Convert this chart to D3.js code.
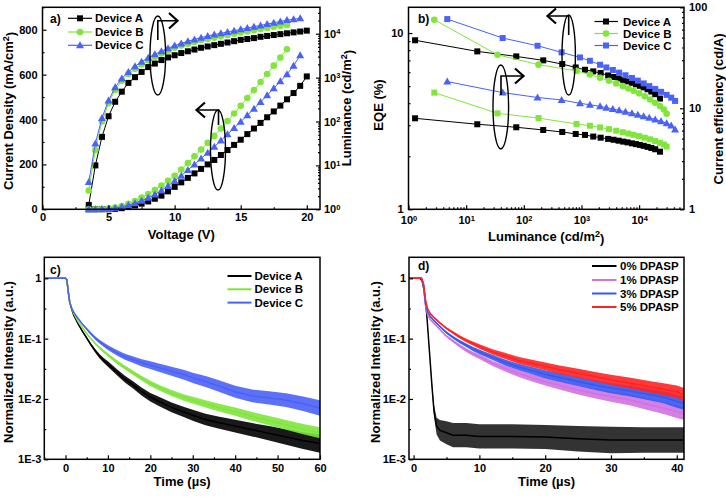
<!DOCTYPE html>
<html><head><meta charset="utf-8">
<script src="https://cdn.jsdelivr.net/npm/d3@7"></script>
<style>
body{margin:0;background:#fff}
text{font-family:"Liberation Sans",Arial,sans-serif;font-weight:bold;fill:#000}
</style>
</head><body>
<svg id="fig" width="726" height="501" xmlns="http://www.w3.org/2000/svg"></svg>
<script>
// ---------------- Panel a data ----------------
const voltage = [3.5,4,4.5,5,5.5,6,6.5,7,7.5,8,8.5,9,9.5,10,10.5,11,11.5,12,12.5,13,13.5,14,14.5,15,15.5,16,16.5,17,17.5,18,18.5,19,19.5,20];
const lumA_log10 = [0.1,1.0,1.65,2.12,2.45,2.68,2.88,3.01,3.13,3.24,3.32,3.40,3.46,3.51,3.56,3.60,3.64,3.68,3.71,3.74,3.77,3.80,3.83,3.86,3.88,3.90,3.93,3.95,3.97,3.99,4.01,4.03,4.05,4.07];
const lumB_log10 = [0.43,1.35,2.0,2.42,2.72,2.93,3.08,3.2,3.3,3.39,3.47,3.55,3.62,3.68,3.73,3.77,3.81,3.85,3.88,3.91,3.94,3.97,4.0,4.03,4.05,4.08,4.11,4.13,4.16,4.18,4.2];
const lumC_log10 = [0.62,1.5,2.08,2.48,2.78,2.98,3.13,3.26,3.36,3.45,3.53,3.6,3.67,3.73,3.78,3.83,3.87,3.91,3.95,3.98,4.01,4.04,4.07,4.1,4.13,4.16,4.19,4.22,4.25,4.28,4.31,4.33,4.35];
const jA = [0,0,0,0,2,5,10,17,25,35,47,61,80,100,120,140,160,180,200,220,242,264,287,310,335,360,385,410,436,462,490,518,550,592];
const jB = [0,0,1,3,8,15,25,37,52,68,86,106,127,149,177,206,236,266,296,327,360,393,427,461,496,531,567,603,640,676,713];
const jC = [0,0,1,2,6,11,18,27,38,51,66,84,104,126,150,175,200,226,252,279,306,334,362,390,419,448,478,508,539,570,602,640,686];
const aXTicks = [0,5,10,15,20];
const aYTicks = [0,200,400,600,800];
const aRTicks = [1,10,100,1000,10000];

// ---------------- Panel b data ----------------
const bLumA = [1.3,15.6,74,217,464,794,1150,1600,2150,2900,3600,4400,5300,6300,7500,8800,10300,12000,14000,16300,19000,23000];
const eqeA  = [9.1,7.87,7.37,7.0,6.67,6.38,6.19,6.06,5.93,5.75,5.63,5.52,5.42,5.32,5.22,5.12,5.02,4.92,4.8,4.66,4.5,4.25];
const ceA   = [7.96,6.95,6.49,6.1,5.83,5.57,5.45,5.25,5.12,4.98,4.88,4.78,4.68,4.6,4.5,4.42,4.34,4.25,4.15,4.05,3.93,3.72];
const bLumB = [2.8,35,180,820,1400,2100,3000,4000,5200,6500,8000,10000,12500,15500,19000,23000,27000,30000];
const eqeB  = [11.9,7.53,6.62,6.1,5.82,5.57,5.36,5.18,5.0,4.85,4.7,4.55,4.38,4.2,4.02,3.85,3.68,3.48];
const ceB   = [14.3,8.92,8.0,7.0,6.72,6.47,6.22,6.0,5.8,5.62,5.46,5.3,5.12,4.93,4.74,4.55,4.38,4.18];
const bLumC = [4.7,43,173,452,942,1400,2100,2700,3500,4500,5800,7500,9500,12000,15000,19000,24000,30000,36000,42000];
const eqeC  = [12.0,9.37,8.47,7.77,7.27,6.96,6.61,6.38,6.17,5.96,5.76,5.56,5.37,5.18,5.0,4.82,4.64,4.46,4.3,4.12];
const ceC   = [18.4,14.3,12.8,12.1,11.2,10.85,10.45,10.15,9.85,9.55,9.25,8.95,8.65,8.35,8.05,7.75,7.45,7.1,6.75,6.15];
const bXTicks = [1,10,100,1000,10000];

// ---------------- Panel c data (log10 of normalized intensity) ----------------
const tC = [-5,-1,0,0.3,0.7,1,1.5,2,3,4,5,6,7,8,9,10,12,14,16,18,20,22,25,28,30,33,36,40,44,48,52,56,60];
const cA_log10 = [0,0,0,-0.02,-0.25,-0.4,-0.52,-0.62,-0.76,-0.88,-0.99,-1.1,-1.2,-1.29,-1.36,-1.42,-1.55,-1.67,-1.77,-1.88,-1.97,-2.04,-2.14,-2.22,-2.27,-2.34,-2.39,-2.45,-2.51,-2.57,-2.63,-2.69,-2.74];
const cB_log10 = [0,0,0,-0.02,-0.25,-0.4,-0.5,-0.59,-0.72,-0.82,-0.92,-1.0,-1.08,-1.15,-1.21,-1.27,-1.38,-1.48,-1.57,-1.66,-1.74,-1.81,-1.9,-1.98,-2.02,-2.08,-2.14,-2.21,-2.29,-2.36,-2.43,-2.5,-2.56];
const cC_log10 = [0,0,0,-0.02,-0.25,-0.4,-0.5,-0.57,-0.67,-0.76,-0.84,-0.92,-0.99,-1.05,-1.1,-1.15,-1.23,-1.3,-1.35,-1.4,-1.44,-1.48,-1.54,-1.6,-1.65,-1.71,-1.78,-1.88,-1.95,-1.98,-2.02,-2.08,-2.15];
// noise half-width of each trace (decades)
const cA_noise = [0.005,0.005,0.005,0.005,0.005,0.005,0.005,0.008,0.01,0.015,0.02,0.025,0.03,0.035,0.04,0.045,0.05,0.055,0.06,0.065,0.07,0.075,0.08,0.085,0.09,0.095,0.1,0.105,0.11,0.12,0.13,0.14,0.15];
const cB_noise = [0.005,0.005,0.005,0.005,0.005,0.005,0.005,0.006,0.008,0.01,0.012,0.015,0.018,0.02,0.022,0.025,0.03,0.033,0.036,0.04,0.043,0.046,0.05,0.054,0.057,0.06,0.064,0.068,0.072,0.076,0.08,0.085,0.09];
const cC_noise = [0.005,0.005,0.005,0.005,0.005,0.005,0.005,0.008,0.01,0.015,0.02,0.024,0.028,0.032,0.036,0.04,0.045,0.05,0.055,0.06,0.065,0.07,0.075,0.08,0.085,0.09,0.095,0.1,0.105,0.11,0.115,0.12,0.13];
const cXTicks = [0,10,20,30,40,50,60];
const decayYTicks = [0.001,0.01,0.1,1];
const decayYLabels = ["1E-3","1E-2","1E-1","1"];

// ---------------- Panel d data ----------------
const tD = [-0.7,0,1,1.2,1.5,1.8,2.1,2.5,3,4,5,6,7,8,9,10,12,14,16,18,20,22,25,28,30,33,36,38,40,41.1];
const d5_log10 = [0,0,0,0,-0.08,-0.35,-0.5,-0.58,-0.64,-0.74,-0.83,-0.9,-0.97,-1.03,-1.08,-1.13,-1.22,-1.29,-1.36,-1.41,-1.46,-1.51,-1.575,-1.64,-1.685,-1.74,-1.8,-1.84,-1.88,-1.93];
const d3_log10 = [0,0,0,0,-0.1,-0.4,-0.55,-0.63,-0.69,-0.8,-0.9,-0.98,-1.05,-1.11,-1.17,-1.22,-1.31,-1.4,-1.47,-1.53,-1.59,-1.64,-1.71,-1.78,-1.82,-1.87,-1.93,-1.97,-2.04,-2.07];
const d1_log10 = [0,0,0,0,-0.12,-0.45,-0.6,-0.68,-0.735,-0.85,-0.96,-1.04,-1.12,-1.19,-1.25,-1.3,-1.41,-1.5,-1.58,-1.65,-1.71,-1.77,-1.85,-1.92,-1.96,-2.02,-2.1,-2.15,-2.21,-2.24];
const dColoured_noise = [0.004,0.004,0.004,0.004,0.006,0.008,0.01,0.012,0.014,0.016,0.018,0.022,0.026,0.03,0.034,0.038,0.044,0.05,0.055,0.06,0.065,0.07,0.075,0.08,0.085,0.09,0.095,0.1,0.105,0.11];
const tD0 = [-0.7,0,1,1.3,1.6,2,2.4,2.8,3.1,3.5,4,5,6,8,10,15,20,25,30,35,41.1];
const d0_log10 = [0,0,0,-0.05,-0.2,-0.6,-1.2,-1.8,-2.2,-2.45,-2.52,-2.56,-2.6,-2.6,-2.62,-2.62,-2.63,-2.66,-2.68,-2.68,-2.68];
const d0_noise = [0.004,0.004,0.004,0.01,0.02,0.03,0.04,0.06,0.1,0.14,0.17,0.19,0.2,0.2,0.2,0.2,0.2,0.21,0.22,0.21,0.21];
const dXTicks = [0,10,20,30,40];

// ---------------- styling ----------------
const COL = {black:"#000000", green:"#80e63c", blue:"#4a62f6", violet:"#cf72e2", blue2:"#3558f0", red:"#ff2424"};
const svg = d3.select("#fig");
const TICK_FS = 11, TITLE_FS = 13;

const boxA = {x0:42.5, x1:320, y0:7.3, y1:209.3};
const boxB = {x0:408.5, x1:684, y0:7.3, y1:209.3};
const boxC = {x0:44.3, x1:320, y0:257.3, y1:459.3};
const boxD = {x0:409, x1:684, y0:257.3, y1:459.3};

function clip(id, b){
  svg.append("clipPath").attr("id",id).append("rect")
    .attr("x",b.x0).attr("y",b.y0).attr("width",b.x1-b.x0).attr("height",b.y1-b.y0);
  return svg.append("g").attr("clip-path",`url(#${id})`);
}
function frame(b){
  svg.append("rect").attr("x",b.x0).attr("y",b.y0).attr("width",b.x1-b.x0).attr("height",b.y1-b.y0)
    .attr("fill","none").attr("stroke","#000").attr("stroke-width",1.5);
}
function styleAxis(g){
  g.select(".domain").remove();
  g.selectAll("line").attr("stroke","#000").attr("stroke-width",1.2);
  g.selectAll("text").attr("font-size",TICK_FS).attr("font-family","Liberation Sans, Arial, sans-serif").attr("font-weight","bold").attr("fill","#000");
}
function axis(gen, pos, transform, vals, fmt, size, pad){
  const g = svg.append("g").attr("transform",transform)
    .call(gen.tickValues(vals).tickSize(size).tickPadding(pad).tickFormat(fmt||(()=>"")));
  styleAxis(g);
  return g;
}
function supLabels(g){
  g.selectAll("text").each(function(d){
    const e = Math.round(Math.log10(d));
    const t = d3.select(this); t.text("10");
    t.append("tspan").attr("dy","-0.45em").attr("font-size","0.68em").text(e);
  });
}
function logMinors(lo, hi){
  const out=[];
  for(let p=lo;p<hi;p++) for(let m=2;m<=9;m++) out.push(m*Math.pow(10,p));
  return out;
}
function label(x,y,txt,opts={}){
  const t = svg.append("text").attr("x",x).attr("y",y).attr("font-size",opts.fs||TITLE_FS)
    .attr("text-anchor",opts.anchor||"middle");
  if(opts.rot) t.attr("transform",`rotate(-90,${x},${y})`);
  if(opts.parts){
    opts.parts.forEach(p=>{
      const s=t.append("tspan").text(p.t);
      if(p.sup){ s.attr("dy","-0.45em").attr("font-size","0.7em"); }
      if(p.back){ s.attr("dy","0.45em"); }
    });
  } else t.text(txt);
  return t;
}
function marker(g, shape, x, y, color){
  if(shape==="square") g.append("rect").attr("x",x-3).attr("y",y-3).attr("width",6).attr("height",6).attr("fill",color);
  else if(shape==="circle") g.append("circle").attr("cx",x).attr("cy",y).attr("r",3.3).attr("fill",color);
  else g.append("path").attr("d",`M${x},${y-4}L${x+4},${y+3}L${x-4},${y+3}Z`).attr("fill",color);
}
function series(g, xs, ys, sx, sy, color, shape, lw){
  const pts = xs.map((x,i)=>[sx(x), sy(ys[i])]);
  g.append("path").attr("d",d3.line()(pts)).attr("fill","none").attr("stroke",color).attr("stroke-width",lw||1);
  pts.forEach(p=>marker(g,shape,p[0],p[1],color));
}
function decay(g, ts, logs, noise, sx, sy, color, op){
  const area = d3.area().x((d,i)=>sx(ts[i])).y0((d,i)=>sy(Math.pow(10,logs[i]-noise[i]))).y1((d,i)=>sy(Math.pow(10,logs[i]+noise[i])));
  g.append("path").attr("d",area(ts)).attr("fill",color).attr("opacity",op||0.9);
  const line = d3.line().x((d,i)=>sx(ts[i])).y((d,i)=>sy(Math.pow(10,logs[i])));
  g.append("path").attr("d",line(ts)).attr("fill","none").attr("stroke",color).attr("stroke-width",1.5);
}
function arrow(d, head){
  svg.append("path").attr("d",d).attr("fill","none").attr("stroke","#000").attr("stroke-width",1.6);
  svg.append("path").attr("d",head).attr("fill","none").attr("stroke","#000").attr("stroke-width",2.2).attr("stroke-linejoin","miter");
}
function ellipse(cx,cy,rx,ry){
  svg.append("ellipse").attr("cx",cx).attr("cy",cy).attr("rx",rx).attr("ry",ry).attr("fill","none").attr("stroke","#000").attr("stroke-width",1.4);
}

// ================= Panel a =================
{
  const b = boxA;
  const x = d3.scaleLinear().domain([0,21]).range([b.x0,b.x1]);
  const yL = d3.scaleLinear().domain([0,900]).range([b.y1,b.y0]);
  const yR = d3.scaleLog().domain([1,40000]).range([b.y1,b.y0]);
  const gu = svg.append("g");
  series(gu, voltage, lumA_log10.map(v=>Math.pow(10,v)), x, yR, COL.black, "square");
  series(gu, voltage.slice(0,lumB_log10.length), lumB_log10.map(v=>Math.pow(10,v)), x, yR, COL.green, "circle");
  series(gu, voltage.slice(0,lumC_log10.length), lumC_log10.map(v=>Math.pow(10,v)), x, yR, COL.blue, "triangle");
  series(gu, voltage, jA, x, yL, COL.black, "square");
  series(gu, voltage.slice(0,jB.length), jB, x, yL, COL.green, "circle");
  series(gu, voltage.slice(0,jC.length), jC, x, yL, COL.blue, "triangle");
  frame(b);
  axis(d3.axisBottom(x),"b",`translate(0,${b.y1})`,aXTicks,d3.format("d"),-4,4);
  axis(d3.axisBottom(x),"b",`translate(0,${b.y1})`,[2.5,7.5,12.5,17.5],null,-2,4);
  axis(d3.axisLeft(yL),"l",`translate(${b.x0},0)`,aYTicks,d3.format("d"),-4,5);
  axis(d3.axisLeft(yL),"l",`translate(${b.x0},0)`,[100,300,500,700,900],null,-2,5);
  const r = axis(d3.axisRight(yR),"r",`translate(${b.x1},0)`,aRTicks,d=>d,-4,4);
  supLabels(r);
  axis(d3.axisRight(yR),"r",`translate(${b.x1},0)`,logMinors(0,5).filter(v=>v<40000),null,-2,4);
  label((b.x0+b.x1)/2, 239, "Voltage (V)");
  label(13, 111, null, {rot:true, parts:[{t:"Current Density (mA/cm"},{t:"2",sup:true},{t:")",back:true}]});
  label(351, 108, null, {rot:true, parts:[{t:"Luminance (cd/m"},{t:"2",sup:true},{t:")",back:true}]});
  label(50, 22.5, "a)", {anchor:"start", fs:12});
  const leg = svg.append("g");
  [["Device A",COL.black,"square",18.3],["Device B",COL.green,"circle",32],["Device C",COL.blue,"triangle",45.3]].forEach(d=>{
    leg.append("line").attr("x1",68).attr("x2",92).attr("y1",d[3]).attr("y2",d[3]).attr("stroke",d[1]).attr("stroke-width",1.2);
    marker(leg,d[2],80,d[3],d[1]);
    leg.append("text").attr("x",95).attr("y",d[3]+4).attr("font-size",11.5).text(d[0]);
  });
  ellipse(157.8,55.5,7.8,39.5);
  arrow("M157.8,40V20.7H177","M169,13L177.5,20.7L169,28.5");
  ellipse(218,150,7.5,40);
  arrow("M218.5,125V110H197","M205,102.5L196.5,110L205,117.5");
}

// ================= Panel b =================
{
  const b = boxB;
  const x = d3.scaleLog().domain([1,60000]).range([b.x0,b.x1]);
  const yL = d3.scaleLog().domain([1,14]).range([b.y1,b.y0]);
  const yR = d3.scaleLog().domain([1,100]).range([b.y1,b.y0]);
  const g = svg.append("g");
  series(g, bLumA, eqeA, x, yL, COL.black, "square");
  series(g, bLumB, eqeB, x, yL, COL.green, "circle");
  series(g, bLumC, eqeC, x, yL, COL.blue, "square");
  series(g, bLumA, ceA, x, yR, COL.black, "square");
  series(g, bLumB, ceB, x, yR, COL.green, "square");
  series(g, bLumC, ceC, x, yR, COL.blue, "triangle");
  frame(b);
  const bx = axis(d3.axisBottom(x),"b",`translate(0,${b.y1})`,bXTicks,d=>d,-4,7);
  supLabels(bx);
  axis(d3.axisBottom(x),"b",`translate(0,${b.y1})`,logMinors(0,5).filter(v=>v<60000),null,-2,4);
  axis(d3.axisLeft(yL),"l",`translate(${b.x0},0)`,[1,10],d3.format("d"),-4,5);
  axis(d3.axisLeft(yL),"l",`translate(${b.x0},0)`,[2,3,4,5,6,7,8,9],null,-2,5);
  axis(d3.axisRight(yR),"r",`translate(${b.x1},0)`,[1,10,100],d3.format("d"),-4,5);
  axis(d3.axisRight(yR),"r",`translate(${b.x1},0)`,logMinors(0,2),null,-2,5);
  label((b.x0+b.x1)/2, 241, null, {parts:[{t:"Luminance (cd/m"},{t:"2",sup:true},{t:")",back:true}]});
  label(383, 105, "EQE (%)", {rot:true});
  label(723, 109, "Current efficiency (cd/A)", {rot:true});
  label(418, 22.5, "b)", {anchor:"start", fs:12});
  const leg = svg.append("g");
  [["Device A",COL.black,"square",21.5],["Device B",COL.green,"circle",33.5],["Device C",COL.blue,"square",45.5]].forEach(d=>{
    leg.append("line").attr("x1",594.5).attr("x2",618).attr("y1",d[3]).attr("y2",d[3]).attr("stroke",d[1]).attr("stroke-width",1.2);
    marker(leg,d[2],606,d[3],d[1]);
    leg.append("text").attr("x",623).attr("y",d[3]+4).attr("font-size",11.5).text(d[0]);
  });
  ellipse(568.7,55,6.7,40);
  arrow("M568.7,35V16H548","M556,8.5L547.5,16L556,23.5");
  ellipse(500.8,107,7.8,42);
  arrow("M501,95V76H523","M515,68.5L523.5,76L515,83.5");
}

// ================= Panel c =================
{
  const b = boxC;
  const x = d3.scaleLinear().domain([-5,60]).range([b.x0,b.x1]);
  const y = d3.scaleLog().domain([0.001,2.23]).range([b.y1,b.y0]);
  const g = clip("clipC", b);
  decay(g, tC, cA_log10, cA_noise, x, y, COL.black);
  decay(g, tC, cB_log10, cB_noise, x, y, COL.green);
  decay(g, tC, cC_log10, cC_noise, x, y, COL.blue);
  frame(b);
  axis(d3.axisBottom(x),"b",`translate(0,${b.y1})`,cXTicks,d3.format("d"),-4,5);
  axis(d3.axisBottom(x),"b",`translate(0,${b.y1})`,[-5,5,15,25,35,45,55],null,-2,4);
  axis(d3.axisLeft(y),"l",`translate(${b.x0},0)`,decayYTicks,(d,i)=>decayYLabels[i],-4,3);
  axis(d3.axisLeft(y),"l",`translate(${b.x0},0)`,[0.00316,0.0316,0.316],null,-2,3);
  label((b.x0+b.x1)/2, 486, "Time (\u00b5s)");
  label(13, 362, "Normalized Intensity (a.u.)", {rot:true});
  label(50, 274, "c)", {anchor:"start", fs:12});
  const leg = svg.append("g");
  [["Device A",COL.black,276],["Device B",COL.green,289.3],["Device C",COL.blue,302.6]].forEach(d=>{
    leg.append("line").attr("x1",227.5).attr("x2",251.5).attr("y1",d[2]).attr("y2",d[2]).attr("stroke",d[1]).attr("stroke-width",2);
    leg.append("text").attr("x",254.5).attr("y",d[2]+4).attr("font-size",11.5).text(d[0]);
  });
}

// ================= Panel d =================
{
  const b = boxD;
  const x = d3.scaleLinear().domain([-0.7,41.1]).range([b.x0,b.x1]);
  const y = d3.scaleLog().domain([0.001,2.23]).range([b.y1,b.y0]);
  const g = clip("clipD", b);
  decay(g, tD0, d0_log10, d0_noise, x, y, COL.black, 0.8);
  decay(g, tD, d1_log10, dColoured_noise, x, y, COL.violet);
  decay(g, tD, d3_log10, dColoured_noise, x, y, COL.blue2);
  decay(g, tD, d5_log10, dColoured_noise, x, y, COL.red);
  frame(b);
  axis(d3.axisBottom(x),"b",`translate(0,${b.y1})`,dXTicks,d3.format("d"),-4,5);
  axis(d3.axisBottom(x),"b",`translate(0,${b.y1})`,[5,15,25,35],null,-2,4);
  axis(d3.axisLeft(y),"l",`translate(${b.x0},0)`,decayYTicks,(d,i)=>decayYLabels[i],-4,3);
  axis(d3.axisLeft(y),"l",`translate(${b.x0},0)`,[0.00316,0.0316,0.316],null,-2,3);
  label((b.x0+b.x1)/2, 486, "Time (\u00b5s)");
  label(380, 362, "Normalized Intensity (a.u.)", {rot:true});
  label(418, 270, "d)", {anchor:"start", fs:12});
  const leg = svg.append("g");
  [["0% DPASP",COL.black,266],["1% DPASP",COL.violet,280],["3% DPASP",COL.blue2,293.5],["5% DPASP",COL.red,307]].forEach(d=>{
    leg.append("line").attr("x1",592).attr("x2",616.5).attr("y1",d[2]).attr("y2",d[2]).attr("stroke",d[1]).attr("stroke-width",2);
    leg.append("text").attr("x",620).attr("y",d[2]+4).attr("font-size",11.5).text(d[0]);
  });
}
</script>
</body></html>
